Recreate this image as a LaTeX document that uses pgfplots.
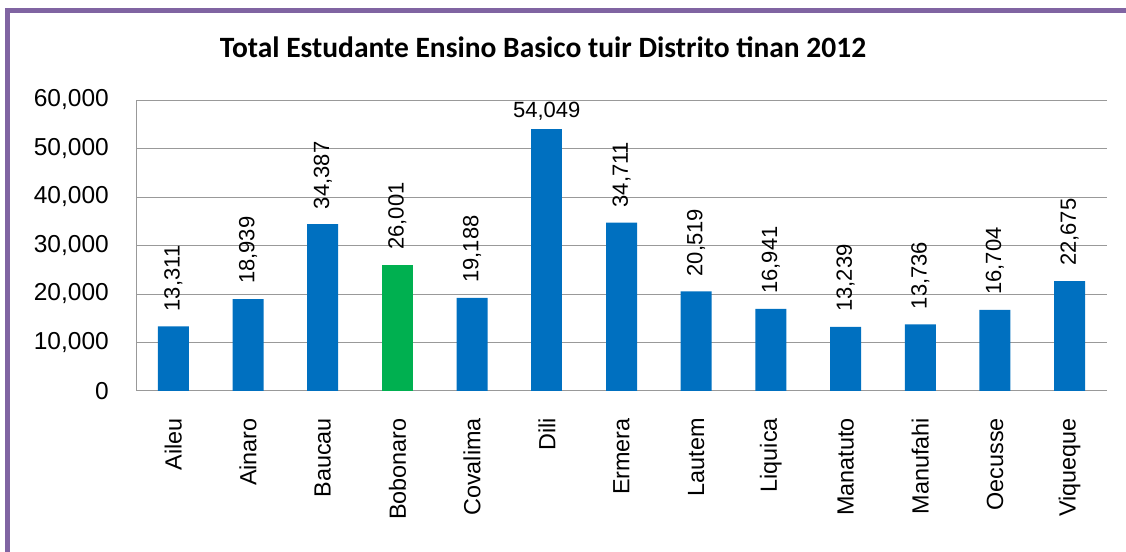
\documentclass[border=0pt]{standalone}
\usepackage{pgfplots}
\pgfplotsset{compat=1.18}
\usepackage{fontspec}
\setmainfont{Liberation Sans}
\newfontfamily\titlefont{Carlito}
\definecolor{barblue}{HTML}{0070C0}
\definecolor{bargreen}{HTML}{00B050}
\definecolor{framepurple}{HTML}{8064A2}
\begin{document}
\begin{tikzpicture}[x=1pt,y=1pt]
\path[use as bounding box] (0,0) rectangle (1126,551);
\draw[framepurple, line width=5pt] (7.5,-5) -- (7.5,540.5) -- (1131,540.5);
\node[font={\titlefont\bfseries\fontsize{29.5}{34}\selectfont}] at (543,504) {Total Estudante Ensino Basico tuir Distrito tinan 2012};
\begin{axis}[
  at={(136pt,160pt)}, anchor=south west,
  scale only axis, width=971pt, height=291pt,
  xmin=-0.5, xmax=12.5, ymin=0, ymax=60000,
  axis lines*=left,
  axis line style={black!40, line width=1pt},
  ytick={0,10000,...,60000},
  ymajorgrids, grid style={black!40, line width=1pt},
  major tick length=0pt,
  xtick={0,...,12},
  xticklabels={Aileu,Ainaro,Baucau,Bobonaro,Covalima,Dili,Ermera,Lautem,Liquica,Manatuto,Manufahi,Oecusse,Viqueque},
  xticklabel style={rotate=90, anchor=east, inner sep=0pt, font=\fontsize{23.4}{28}\selectfont},
  xticklabel shift=27pt,
  yticklabel style={anchor=east, inner sep=0pt, font=\fontsize{24.5}{29}\selectfont},
  yticklabel shift=27pt,
  scaled y ticks=false,
  /pgf/number format/1000 sep={,},
  /pgf/number format/assume math mode=true,
  ybar, bar width=31pt, bar shift=0pt,
  nodes near coords,
  nodes near coords style={font=\fontsize{22}{26}\selectfont},
  clip=false,
]
\addplot[fill=barblue, draw=none,
  every node near coord/.append style={yshift=15pt, rotate=90, anchor=west, inner sep=0pt}]
  coordinates {(0,13311) (1,18939) (2,34387) (4,19188) (6,34711) (7,20519) (8,16941) (9,13239) (10,13736) (11,16704) (12,22675)};
\addplot[fill=bargreen, draw=none,
  every node near coord/.append style={yshift=15pt, rotate=90, anchor=west, inner sep=0pt}]
  coordinates {(3,26001)};
\addplot[fill=barblue, draw=none,
  every node near coord/.append style={yshift=8pt, anchor=south, inner sep=0pt}]
  coordinates {(5,54049)};
\end{axis}
\end{tikzpicture}
\end{document}
